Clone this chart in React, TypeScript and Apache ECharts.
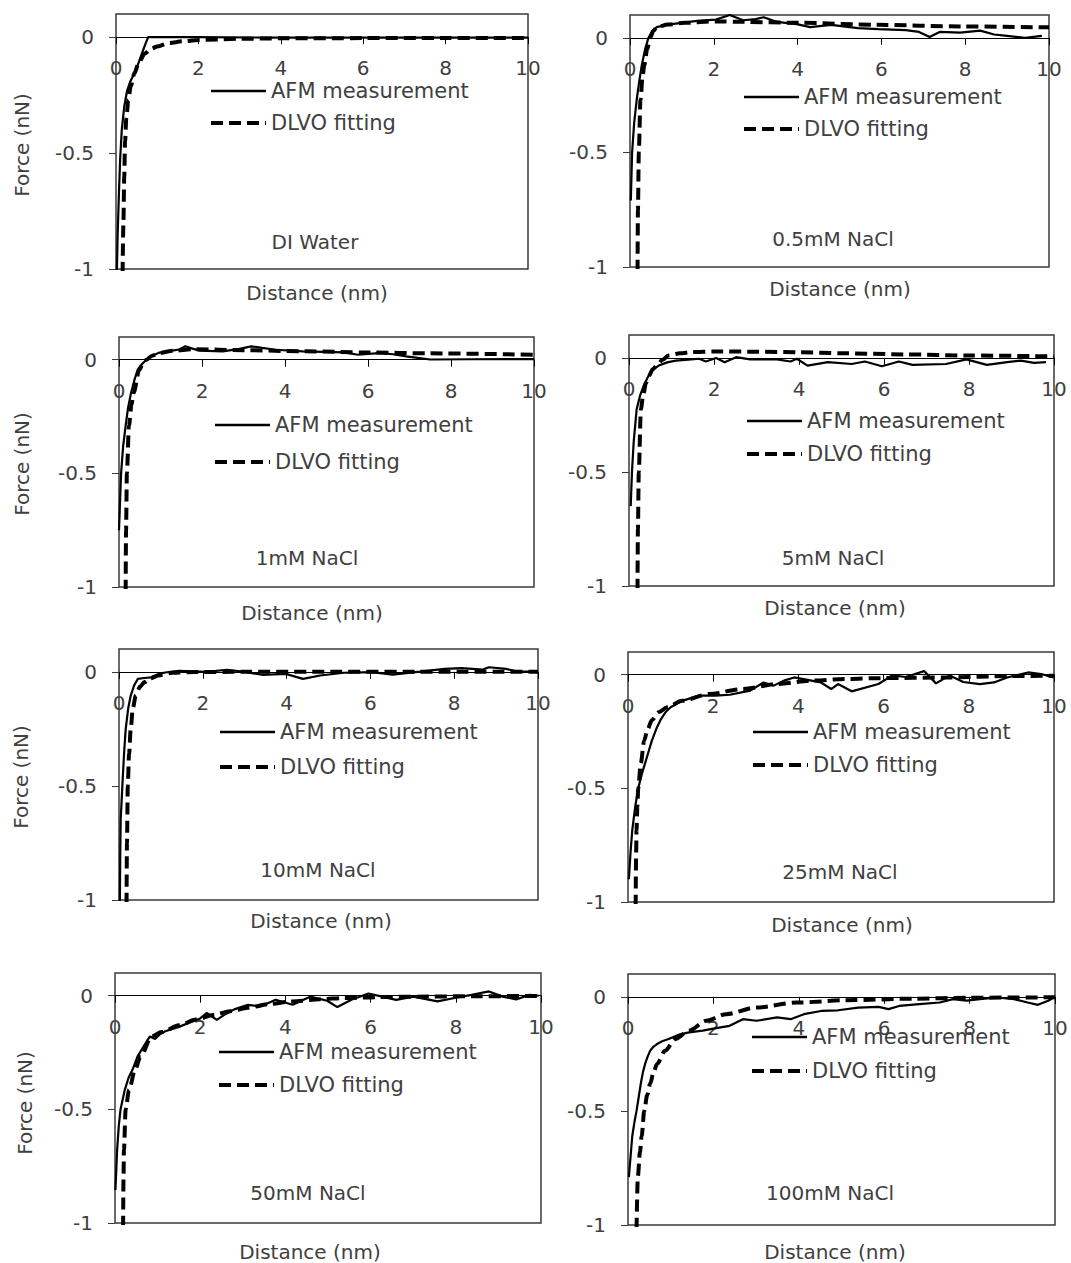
import React, { useEffect, useRef } from "react";
import * as echarts from "echarts";

// ---------- data (distance nm, force nN) ----------
const panelLabels = ["DI Water", "0.5mM NaCl", "1mM NaCl", "5mM NaCl", "10mM NaCl", "25mM NaCl", "50mM NaCl", "100mM NaCl"];
const legendNames = ["AFM measurement", "DLVO fitting"];
const xTitle = "Distance (nm)";
const yTitle = "Force (nN)";
const yTickValues = [-1, -0.5, 0];
const yMin = -1;
const yMax = 0.1;

const diAfm = [[0.02,-1.02],[0.04,-0.85],[0.07,-0.68],[0.1,-0.53],[0.14,-0.4],[0.2,-0.3],[0.27,-0.23],[0.35,-0.19],[0.42,-0.165],[0.55,-0.11],[0.68,-0.045],[0.78,0],[2,0],[4,-0.002],[6,-0.002],[8,-0.002],[10,-0.002]];
const diDlvo = [[0.16,-1.02],[0.18,-0.8],[0.2,-0.6],[0.22,-0.45],[0.25,-0.35],[0.3,-0.27],[0.36,-0.21],[0.45,-0.155],[0.55,-0.11],[0.7,-0.07],[0.85,-0.05],[1.0,-0.04],[1.3,-0.025],[1.6,-0.018],[2,-0.012],[3,-0.007],[4,-0.005],[6,-0.004],[8,-0.003],[10,-0.003]];

const afm05 = [[0.02,-0.71],[0.05,-0.5],[0.1,-0.37],[0.16,-0.27],[0.22,-0.19],[0.28,-0.12],[0.36,-0.05],[0.44,0],[0.53,0.03],[0.64,0.047],[0.9,0.058],[1.24,0.066],[1.6,0.074],[2.05,0.08],[2.38,0.1],[2.7,0.077],[3.0,0.082],[3.19,0.09],[3.5,0.07],[3.98,0.06],[4.3,0.047],[4.8,0.057],[5.44,0.043],[5.93,0.038],[6.58,0.034],[6.9,0.026],[7.15,0.004],[7.39,0.026],[7.88,0.023],[8.36,0.032],[8.69,0.015],[9.0,0.009],[9.43,0],[9.83,0.009]];
const dlvo05 = [[0.18,-1.02],[0.19,-0.75],[0.21,-0.5],[0.25,-0.27],[0.3,-0.17],[0.34,-0.12],[0.41,-0.05],[0.48,0],[0.56,0.03],[0.64,0.047],[0.9,0.058],[1.3,0.066],[2.05,0.072],[2.7,0.07],[4.0,0.066],[5.9,0.057],[7.9,0.05],[10,0.046]];

const afm1 = [[0,-0.75],[0.03,-0.6],[0.05,-0.5],[0.1,-0.38],[0.16,-0.29],[0.22,-0.21],[0.29,-0.146],[0.37,-0.09],[0.45,-0.044],[0.55,-0.02],[0.66,0],[0.8,0.018],[0.95,0.03],[1.28,0.04],[1.45,0.045],[1.6,0.059],[1.75,0.05],[1.95,0.04],[2.5,0.037],[2.9,0.048],[3.19,0.059],[3.45,0.052],[3.77,0.044],[4.43,0.037],[5.42,0.032],[5.76,0.022],[6.26,0.029],[6.6,0.024],[6.92,0.015],[7.2,0.008],[7.5,0.001],[8.5,0.002],[10,0.003]];
const dlvo1 = [[0.16,-1.02],[0.17,-0.75],[0.19,-0.5],[0.24,-0.29],[0.3,-0.2],[0.35,-0.146],[0.49,-0.044],[0.58,-0.015],[0.66,0],[0.8,0.018],[0.99,0.03],[1.3,0.04],[1.8,0.046],[3,0.042],[4.5,0.037],[6,0.032],[7.5,0.028],[10,0.022]];

const afm5 = [[0.04,-0.65],[0.07,-0.5],[0.11,-0.37],[0.18,-0.225],[0.26,-0.166],[0.35,-0.12],[0.46,-0.078],[0.58,-0.05],[0.7,-0.034],[0.9,-0.02],[1.1,-0.012],[1.4,-0.008],[1.65,-0.004],[1.81,-0.016],[2.05,-0.001],[2.25,-0.019],[2.52,0.003],[2.85,-0.007],[3.48,-0.007],[3.8,-0.016],[3.95,-0.004],[4.2,-0.034],[4.68,-0.019],[5.24,-0.027],[5.55,-0.016],[5.95,-0.037],[6.35,-0.016],[6.67,-0.031],[7.46,-0.027],[7.94,-0.007],[8.42,-0.031],[8.9,-0.019],[9.22,-0.012],[9.53,-0.022],[9.81,-0.019]];
const dlvo5 = [[0.2,-1.02],[0.21,-0.75],[0.23,-0.5],[0.28,-0.225],[0.33,-0.166],[0.4,-0.11],[0.47,-0.078],[0.56,-0.05],[0.65,-0.034],[0.78,-0.01],[0.93,0.01],[1.2,0.02],[1.49,0.025],[2,0.028],[3,0.027],[4,0.024],[5,0.02],[6.5,0.015],[8,0.01],[10,0.006]];

const afm10 = [[0.02,-1.02],[0.03,-0.8],[0.04,-0.65],[0.08,-0.5],[0.12,-0.36],[0.16,-0.25],[0.22,-0.16],[0.28,-0.104],[0.36,-0.06],[0.45,-0.031],[0.6,-0.027],[0.77,-0.024],[0.95,-0.01],[1.1,-0.003],[1.43,0.004],[2.09,0],[2.58,0.009],[3.0,0.0],[3.41,-0.013],[3.98,-0.009],[4.39,-0.031],[4.8,-0.016],[5.37,-0.004],[6.04,-0.001],[6.53,-0.012],[7.18,0.001],[7.77,0.013],[8.18,0.016],[8.68,0.01],[8.83,0.02],[9.24,0.013],[9.49,0.002],[10,0]];
const dlvo10 = [[0.18,-1.02],[0.19,-0.75],[0.21,-0.5],[0.24,-0.36],[0.28,-0.25],[0.33,-0.16],[0.4,-0.104],[0.5,-0.065],[0.61,-0.045],[0.75,-0.028],[0.94,-0.016],[1.27,-0.004],[1.8,-0.001],[3,0],[10,0]];

const afm25 = [[0.02,-0.9],[0.06,-0.78],[0.1,-0.684],[0.17,-0.58],[0.24,-0.5],[0.32,-0.44],[0.4,-0.39],[0.48,-0.34],[0.56,-0.29],[0.66,-0.24],[0.76,-0.2],[0.88,-0.165],[1.0,-0.143],[1.27,-0.115],[1.67,-0.092],[2.06,-0.092],[2.39,-0.088],[2.87,-0.07],[3.18,-0.034],[3.42,-0.048],[3.66,-0.026],[3.9,-0.012],[4.21,-0.023],[4.53,-0.034],[4.77,-0.063],[4.93,-0.041],[5.25,-0.073],[5.88,-0.041],[6.2,-0.003],[6.52,-0.01],[6.95,0.016],[7.23,-0.038],[7.55,-0.003],[7.87,-0.032],[8.26,-0.041],[8.59,-0.034],[8.9,-0.012],[9.39,0.01],[9.7,0.003],[9.98,-0.012]];
const dlvo25 = [[0.18,-1.02],[0.19,-0.8],[0.2,-0.684],[0.22,-0.58],[0.24,-0.5],[0.3,-0.39],[0.38,-0.29],[0.46,-0.24],[0.56,-0.2],[0.72,-0.165],[0.92,-0.143],[1.27,-0.115],[1.9,-0.085],[2.7,-0.063],[3.5,-0.041],[4.3,-0.026],[5.1,-0.019],[5.9,-0.015],[7.5,-0.012],[9,-0.006],[10,-0.004]];

const afm50 = [[0.01,-0.855],[0.05,-0.678],[0.09,-0.57],[0.13,-0.5],[0.23,-0.414],[0.32,-0.36],[0.41,-0.326],[0.53,-0.267],[0.68,-0.22],[0.82,-0.179],[0.94,-0.19],[1.05,-0.17],[1.18,-0.156],[1.5,-0.137],[1.83,-0.112],[2.0,-0.1],[2.15,-0.076],[2.39,-0.106],[2.6,-0.08],[2.8,-0.06],[3.12,-0.04],[3.42,-0.047],[3.77,-0.018],[4.17,-0.04],[4.58,-0.004],[4.98,-0.022],[5.22,-0.05],[5.55,-0.018],[5.95,0.01],[6.27,-0.004],[6.6,-0.018],[7.0,-0.004],[7.57,-0.025],[7.97,-0.01],[8.37,0.004],[8.78,0.019],[9.1,-0.004],[9.42,-0.016],[9.74,0.004],[9.95,0]];
const dlvo50 = [[0.19,-1.02],[0.2,-0.8],[0.21,-0.678],[0.25,-0.5],[0.33,-0.414],[0.47,-0.326],[0.6,-0.267],[0.86,-0.179],[1.1,-0.16],[1.5,-0.13],[1.9,-0.105],[2.31,-0.085],[2.7,-0.068],[3.12,-0.053],[3.6,-0.037],[4.17,-0.025],[4.8,-0.015],[5.4,-0.01],[6.2,-0.006],[7,-0.004],[8.5,-0.002],[10,-0.001]];

const afm100 = [[0.02,-0.79],[0.06,-0.7],[0.1,-0.61],[0.15,-0.55],[0.2,-0.5],[0.25,-0.44],[0.3,-0.38],[0.35,-0.33],[0.4,-0.294],[0.46,-0.262],[0.52,-0.236],[0.6,-0.218],[0.68,-0.207],[0.8,-0.195],[0.95,-0.185],[1.19,-0.166],[1.43,-0.156],[1.75,-0.148],[2.06,-0.137],[2.38,-0.127],[2.69,-0.098],[3.01,-0.105],[3.49,-0.09],[3.81,-0.098],[4.12,-0.076],[4.52,-0.062],[4.92,-0.059],[5.39,-0.047],[5.87,-0.044],[6.1,-0.054],[6.35,-0.04],[6.82,-0.032],[7.3,-0.025],[7.61,-0.01],[7.93,-0.017],[8.24,-0.01],[8.64,-0.003],[9.04,-0.01],[9.36,-0.025],[9.6,-0.035],[9.84,-0.017],[10,0]];
const dlvo100 = [[0.2,-1.02],[0.23,-0.79],[0.28,-0.68],[0.32,-0.61],[0.38,-0.5],[0.45,-0.43],[0.52,-0.38],[0.6,-0.33],[0.68,-0.294],[0.87,-0.236],[1.11,-0.185],[1.43,-0.148],[1.83,-0.105],[2.3,-0.076],[3.0,-0.047],[3.96,-0.025],[5.1,-0.015],[6.7,-0.008],[8,-0.004],[10,-0.002]];

const afmSets = [diAfm, afm05, afm1, afm5, afm10, afm25, afm50, afm100];
const dlvoSets = [diDlvo, dlvo05, dlvo1, dlvo5, dlvo10, dlvo25, dlvo50, dlvo100];

// ---------- layout (pixels) ----------
// grid: left, top, width, height ; legend: left, row1 centre y, row gap
const gridBoxes = [
  [116, 14, 412, 255],
  [630, 15, 419, 252],
  [119, 337, 415, 250],
  [629, 335, 425, 251],
  [119, 649, 419, 251],
  [628, 652, 426, 250],
  [115, 973, 426, 250],
  [628, 974, 427, 251],
];
const legendPos = [
  [209, 91, 32], [742, 97, 32], [213, 425, 37], [745, 421, 33],
  [218, 732, 35], [751, 732, 33], [217, 1052, 33], [750, 1037, 34],
];
const xTitlePos = [[317, 293], [840, 289], [312, 613], [835, 608], [321, 921], [842, 925], [310, 1252], [835, 1252]];
const notePos = [[315, 242], [833, 239], [307, 558], [833, 558], [318, 870], [840, 872], [308, 1193], [830, 1193]];
const yTitlePos = [[22, 145], [22, 464], [21, 777], [25, 1103]];

const FONT = "DejaVu Sans";
const TEXT = "#404040";
const DASH = [12, 6];

export default function App() {
  const ref = useRef<HTMLDivElement>(null);
  useEffect(() => {
    if (!ref.current) return;
    const chart = echarts.init(ref.current, undefined, { renderer: "svg" });
    const grid: any[] = [];
    const xAxis: any[] = [];
    const yAxis: any[] = [];
    const series: any[] = [];
    const legend: any[] = [];
    const graphic: any[] = [];
    gridBoxes.forEach((g, i) => {
      grid.push({
        left: g[0], top: g[1], width: g[2], height: g[3],
        show: true, borderColor: "#3a3a3a", borderWidth: 1.5, backgroundColor: "transparent",
      });
      // move the x axis (line, ticks, labels) from the grid bottom up to y = 0
      const zeroOffset = -g[3] * (0 - yMin) / (yMax - yMin);
      xAxis.push({
        gridIndex: i, type: "value", min: 0, max: 10, interval: 2,
        position: "bottom", offset: zeroOffset,
        axisLine: { show: true, onZero: false, lineStyle: { color: "#000", width: 1 } },
        axisTick: { show: true, inside: false, length: 7, lineStyle: { color: "#000" } },
        axisLabel: { fontSize: 20, color: TEXT, fontFamily: FONT, margin: 21 },
        splitLine: { show: false },
      });
      yAxis.push({
        gridIndex: i, type: "value", min: yMin, max: yMax, interval: 0.5,
        axisLine: { show: false, onZero: false },
        axisTick: { show: true, length: 7, lineStyle: { color: "#3a3a3a" }, customValues: yTickValues },
        axisLabel: { fontSize: 20, color: TEXT, fontFamily: FONT, margin: 22, customValues: yTickValues },
        splitLine: { show: false },
      });
      series.push({
        name: legendNames[0], type: "line", xAxisIndex: i, yAxisIndex: i,
        data: afmSets[i], symbol: "none", showSymbol: false, smooth: false,
        lineStyle: { color: "#000", width: 2.2 }, itemStyle: { color: "#000" },
      });
      series.push({
        name: legendNames[1], type: "line", xAxisIndex: i, yAxisIndex: i,
        data: dlvoSets[i], symbol: "none", showSymbol: false, smooth: 0.3, smoothMonotone: "x",
        lineStyle: { color: "#000", width: 4, type: DASH }, itemStyle: { color: "#000" },
      });
      const lp = legendPos[i];
      legend.push({
        orient: "vertical", left: lp[0], top: lp[1] - 11, padding: 0,
        itemWidth: 55, itemHeight: 14, itemGap: lp[2] - 22, selectedMode: false,
        textStyle: { fontSize: 21, color: TEXT, fontFamily: FONT, lineHeight: 22 },
        data: [
          { name: legendNames[0], lineStyle: { width: 2.4, type: "solid", color: "#000" }, itemStyle: { opacity: 0 } },
          { name: legendNames[1], lineStyle: { width: 4, type: DASH, color: "#000" }, itemStyle: { opacity: 0 } },
        ],
      });
      graphic.push({
        type: "text", x: xTitlePos[i][0], y: xTitlePos[i][1],
        style: { text: xTitle, fontSize: 20, fontFamily: FONT, fill: TEXT, textAlign: "center", textVerticalAlign: "middle" },
      });
      graphic.push({
        type: "text", x: notePos[i][0], y: notePos[i][1],
        style: { text: panelLabels[i], fontSize: 20, fontFamily: FONT, fill: TEXT, textAlign: "center", textVerticalAlign: "middle" },
      });
    });
    yTitlePos.forEach((p) => {
      graphic.push({
        type: "text", x: p[0], y: p[1], rotation: Math.PI / 2,
        style: { text: yTitle, fontSize: 20, fontFamily: FONT, fill: TEXT, textAlign: "center", textVerticalAlign: "middle" },
      });
    });
    chart.setOption({
      animation: false,
      backgroundColor: "#fff",
      textStyle: { fontFamily: FONT },
      grid, xAxis, yAxis, series, legend, graphic,
    });
    return () => chart.dispose();
  }, []);
  return <div ref={ref} style={{ position: "absolute", left: 0, top: 0, width: 1071, height: 1263 }} />;
}
